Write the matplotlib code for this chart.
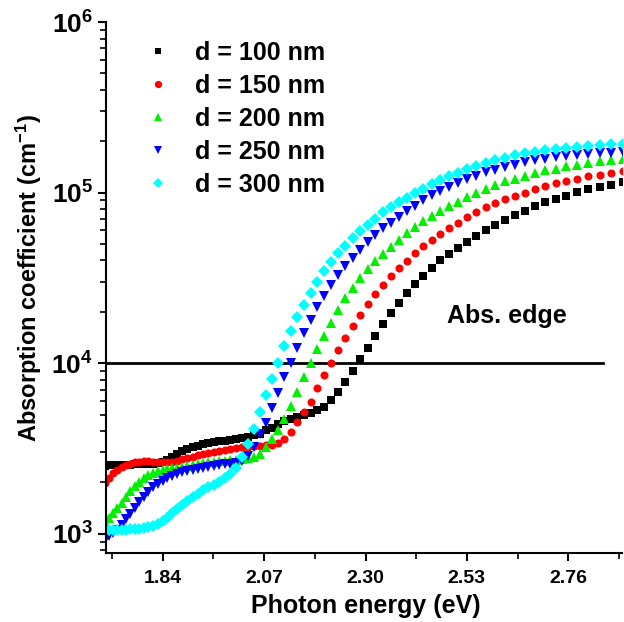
import math
import matplotlib
matplotlib.use("Agg")
import matplotlib.pyplot as plt
from matplotlib.ticker import FixedLocator, LogLocator, FuncFormatter, NullFormatter

plt.rcParams['font.family'] = ['Liberation Sans', 'DejaVu Sans']
plt.rcParams['font.weight'] = 'bold'
plt.rcParams['mathtext.fontset'] = 'custom'
plt.rcParams['mathtext.rm'] = 'Liberation Sans:bold'
plt.rcParams['mathtext.bf'] = 'Liberation Sans:bold'
plt.rcParams['mathtext.it'] = 'Liberation Sans:bold'

# Photon energy (eV), shared by all films
energy = [1.7080, 1.7175, 1.7270, 1.7367, 1.7465, 1.7564, 1.7664, 1.7765, 1.7867, 1.7971,
          1.8076, 1.8182, 1.8289, 1.8398, 1.8507, 1.8619, 1.8731, 1.8845, 1.8960, 1.9077,
          1.9195, 1.9315, 1.9436, 1.9558, 1.9683, 1.9808, 1.9936, 2.0065, 2.0195, 2.0328,
          2.0462, 2.0598, 2.0736, 2.0875, 2.1017, 2.1160, 2.1306, 2.1453, 2.1603, 2.1754,
          2.1908, 2.2064, 2.2222, 2.2383, 2.2545, 2.2711, 2.2878, 2.3048, 2.3221, 2.3396,
          2.3574, 2.3755, 2.3938, 2.4125, 2.4314, 2.4506, 2.4701, 2.4900, 2.5101, 2.5306,
          2.5514, 2.5726, 2.5941, 2.6160, 2.6383, 2.6609, 2.6840, 2.7074, 2.7313, 2.7556,
          2.7803, 2.8054, 2.8311, 2.8571, 2.8837]

alpha_100 = [2500, 2515, 2530, 2530, 2530, 2540, 2540, 2550, 2550, 2550,
             2567, 2570, 2584, 2619, 2709, 2821, 2938, 3039, 3122, 3208,
             3273, 3340, 3385, 3431, 3478, 3502, 3525, 3573, 3622, 3696,
             3771, 3848, 4036, 4174, 4377, 4587, 4681, 4809, 4940, 5076,
             5286, 5564, 6093, 6815, 7801, 9012, 10556, 12344, 14456, 16930,
             19650, 22670, 25950, 29180, 32650, 36080, 40350, 43770, 47450, 51240,
             55650, 60100, 64570, 69440, 73610, 78420, 83230, 87830, 91830, 95770,
             101100, 104800, 108100, 110700, 114800]

alpha_150 = [1986, 2125, 2258, 2367, 2449, 2515, 2574, 2619, 2644, 2662,
             2662, 2648, 2637, 2619, 2619, 2637, 2673, 2728, 2772, 2821,
             2879, 2938, 2979, 3031, 3072, 3110, 3152, 3186, 3216, 3242,
             3260, 3273, 3295, 3317, 3385, 3573, 3938, 4544, 5159, 5954,
             7135, 8539, 10000, 11970, 14130, 16550, 19200, 22180, 25390, 28790,
             32650, 36230, 39970, 44190, 48420, 52870, 57330, 61910, 66780, 71830,
             77170, 82220, 86770, 91600, 95770, 100100, 104800, 108600, 113700, 116200,
             120000, 124300, 127200, 130100, 133000]

alpha_200 = [1173, 1238, 1315, 1407, 1516, 1644, 1771, 1894, 2000, 2110,
             2198, 2258, 2320, 2357, 2389, 2415, 2445, 2472, 2499, 2532,
             2560, 2591, 2619, 2637, 2655, 2673, 2691, 2709, 2735, 2772,
             2833, 2946, 3208, 3583, 4063, 4694, 5617, 6815, 8277, 10000,
             12130, 14520, 17300, 20540, 24060, 27760, 31510, 35590, 39640, 43770,
             48300, 52870, 58340, 63270, 68050, 72910, 78000, 83340, 88540, 93850,
             99330, 105300, 110100, 116200, 120500, 125400, 130100, 134800, 137900, 142300,
             145500, 148900, 152200, 154300, 157200]

alpha_250 = [920, 964, 1004, 1053, 1126, 1213, 1307, 1417, 1526, 1633,
             1747, 1882, 1960, 2033, 2110, 2174, 2234, 2288, 2342, 2377,
             2409, 2439, 2465, 2499, 2525, 2550, 2567, 2591, 2673, 2860,
             3208, 3848, 4483, 5445, 6724, 8277, 10080, 12250, 15000, 17950,
             21480, 24920, 28790, 32960, 36960, 41450, 46180, 51100, 56170, 61740,
             66520, 71830, 78220, 83690, 90120, 96160, 102500, 108400, 114600, 120000,
             125400, 131200, 136100, 141100, 145500, 150200, 154300, 157200, 160700, 162800,
             165000, 168200, 169600, 170500, 172800]

alpha_300 = [1053, 1053, 1053, 1053, 1053, 1056, 1060, 1067, 1071, 1078,
             1092, 1111, 1137, 1181, 1238, 1315, 1388, 1466, 1547, 1637,
             1712, 1795, 1869, 1933, 2013, 2110, 2227, 2442, 2810, 3363,
             4119, 5181, 6519, 8089, 10080, 12580, 15370, 18690, 21970, 25950,
             30100, 34780, 39120, 44060, 48950, 54090, 59290, 64740, 70390, 76660,
             81990, 87710, 93480, 99060, 105300, 111900, 118100, 124600, 130700, 137000,
             143700, 149600, 154700, 160000, 165000, 170000, 173500, 177000, 180700, 183100,
             185600, 188100, 189900, 192000, 193300]

labels = ['d = 100 nm', 'd = 150 nm', 'd = 200 nm', 'd = 250 nm', 'd = 300 nm']
edge_level = 1e4
edge_end = 2.838
x_major = [1.84, 2.07, 2.30, 2.53, 2.76]
x_minor = [1.725, 1.955, 2.185, 2.415, 2.645, 2.875]

series = [alpha_100, alpha_150, alpha_200, alpha_250, alpha_300]
styles = [('s', '#000000', 5.2), ('o', '#ff0000', 5.8), ('^', '#00f000', 7.0),
          ('v', '#0000ff', 7.0), ('D', '#00ffff', 5.8)]

fig = plt.figure(figsize=(6.24, 6.22), dpi=100)
ax = fig.add_axes([0.1694, 0.1109, 0.8269, 0.8537])

ax.plot([1.7105, edge_end], [edge_level, edge_level], color='black', lw=2.0, zorder=1)

for vals, lab, (m, c, ms) in zip(series, labels, styles):
    ax.plot(energy, vals, linestyle='none', marker=m, color=c, markersize=ms,
            markeredgewidth=0, label=lab, zorder=2, clip_on=True)

ax.set_yscale('log')
ax.set_xlim(1.7105, 2.8813)
ax.set_ylim(771, 1e6)

ax.xaxis.set_major_locator(FixedLocator(x_major))
ax.xaxis.set_minor_locator(FixedLocator(x_minor))
ax.xaxis.set_major_formatter(FuncFormatter(lambda v, p: f'{v:.2f}'))
ax.yaxis.set_major_locator(LogLocator(base=10, numticks=10))
ax.yaxis.set_minor_locator(LogLocator(base=10, subs=range(2, 10), numticks=20))
ax.yaxis.set_minor_formatter(NullFormatter())
ax.yaxis.set_major_formatter(FuncFormatter(lambda v, p: r'$\mathbf{10^{%d}}$' % round(math.log10(v))))

for s in ['top', 'right']:
    ax.spines[s].set_visible(False)
for s in ['left', 'bottom']:
    ax.spines[s].set_linewidth(1.5)

ax.tick_params(axis='both', which='major', direction='out', length=6, width=1.5)
ax.tick_params(axis='x', which='major', labelsize=14, pad=6)
ax.tick_params(axis='y', which='major', labelsize=19, pad=3)
ax.tick_params(axis='both', which='minor', direction='out', length=4, width=1.2)
for t in ax.get_xticklabels() + ax.get_yticklabels():
    t.set_fontweight('bold')

ax.set_xlabel('Photon energy (eV)', fontsize=18, fontweight='bold')
ax.set_ylabel(r'Absorption coefficient (cm$^{\mathbf{-1}}$)', fontsize=17, fontweight='bold')
ax.xaxis.set_label_coords(0.5045, -0.077)
ax.yaxis.set_label_coords(-0.12, 0.518)

ax.text(2.485, 1.9e4, 'Abs. edge', fontsize=18, fontweight='bold', ha='left', va='center')

leg = ax.legend(loc='upper left', bbox_to_anchor=(145 / 624, 1 - 41 / 622),
                bbox_transform=fig.transFigure, frameon=False, fontsize=18,
                handlelength=1.0, handletextpad=1.0, labelspacing=0.36,
                borderpad=0, borderaxespad=0, numpoints=1, markerscale=0.9)

fig.savefig('out.png', dpi=100)
